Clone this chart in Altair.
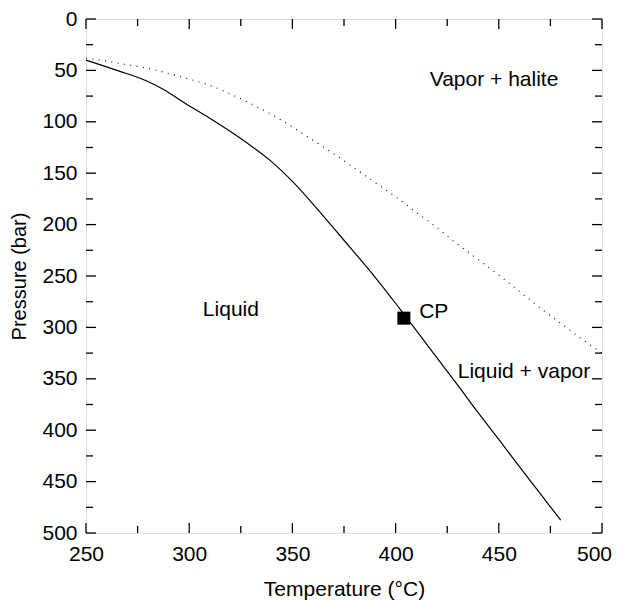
import altair as alt
import pandas as pd

# Liquid-vapor boundary (solid)
lv_T = [250, 265, 280, 288, 298, 310, 320, 330, 340, 350, 360, 370,
        380, 390, 400, 404, 410, 420, 430, 440, 450, 460, 470, 480]
lv_P = [40, 50, 60.8, 69, 82, 96.5, 109.5, 123.5, 139, 158, 180, 203.5,
        227, 251, 276.5, 287, 303, 329.5, 356, 383, 409, 435.5, 461.5, 487.5]

# Vapor + halite boundary (dotted)
vh_T = [250, 260, 270, 280, 290, 300, 310, 320, 330, 340, 350, 360, 370, 380,
        390, 400, 410, 420, 430, 440, 450, 460, 470, 480, 490, 500]
vh_P = [38, 41, 44.5, 48, 53, 58.5, 64.5, 73, 82.5, 93, 105, 118, 131, 145,
        159, 173, 188, 203, 219, 234, 249, 265, 281, 296, 311, 325]

# Critical point
cp_T = [404]
cp_P = [291]

# Region labels
lab_text = ["Vapor + halite", "Liquid", "CP", "Liquid + vapor"]
lab_T = [447.7, 320.2, 418.5, 462.2]
lab_P = [59, 283, 285, 343]

# Axis ticks
x_major = [250, 300, 350, 400, 450, 500]
x_minor = [275, 325, 375, 425, 475]
y_major = [0, 50, 100, 150, 200, 250, 300, 350, 400, 450, 500]
y_minor = [25, 75, 125, 175, 225, 275, 325, 375, 425, 475]

W, H = 516, 514
FONT = "Liberation Sans"
MAJ, MIN = 10, 7

xs = alt.Scale(domain=[250, 500], nice=False, zero=False)
ys = alt.Scale(domain=[0, 500], nice=False, zero=False, reverse=True)

lv = pd.DataFrame({"T": lv_T, "P": lv_P})
vh = pd.DataFrame({"T": vh_T, "P": vh_P})
cp = pd.DataFrame({"T": cp_T, "P": cp_P})
labs = pd.DataFrame({"T": lab_T, "P": lab_P, "text": lab_text})

xaxis = alt.Axis(values=x_major, ticks=False, tickSize=0, domain=False, grid=False,
                 labelFontSize=21, labelPadding=10, labelFont=FONT, labelColor="black",
                 labelOffset={"condition": {"test": "datum.value === 500", "value": -8},
                              "value": 0},
                 title="Temperature (°C)", titleFontSize=21, titleFont=FONT,
                 titleFontWeight="normal", titleColor="black", titlePadding=14,
                 labelFlush=False, labelOverlap=False)
yaxis = alt.Axis(values=y_major, ticks=False, tickSize=0, domain=False, grid=False,
                 labelFontSize=21, labelPadding=9, labelFont=FONT, labelColor="black",
                 title="Pressure (bar)", titleFontSize=20, titleFont=FONT,
                 titleFontWeight="normal", titleColor="black", titlePadding=12,
                 labelFlush=False, labelOverlap=False)


def X(f):
    return alt.X(f, scale=xs, axis=xaxis)


def Y(f):
    return alt.Y(f, scale=ys, axis=yaxis)


solid = alt.Chart(lv).mark_line(color="black", strokeWidth=1.2, interpolate="monotone").encode(
    x=X("T:Q"), y=Y("P:Q"), order="T:Q",
)
dotted = alt.Chart(vh).mark_line(color="black", strokeWidth=1.1, strokeDash=[1, 5.4],
                                 interpolate="monotone").encode(
    x=X("T:Q"), y=Y("P:Q"), order="T:Q",
)
cpm = alt.Chart(cp).mark_square(color="black", size=169, opacity=1).encode(
    x=X("T:Q"), y=Y("P:Q"),
)
text = alt.Chart(labs).mark_text(font=FONT, fontSize=21, color="black",
                                 align="center", baseline="middle").encode(
    x=X("T:Q"), y=Y("P:Q"), text="text:N",
)


def xticks(vals, length):
    d = pd.DataFrame({"T": vals})
    bottom = alt.Chart(d).mark_rule(color="black", strokeWidth=1.3).encode(
        x=X("T:Q"), y=alt.value(H), y2=alt.value(H - length))
    top = alt.Chart(d).mark_rule(color="black", strokeWidth=1.3).encode(
        x=X("T:Q"), y=alt.value(0), y2=alt.value(length))
    return [bottom, top]


def yticks(vals, length):
    d = pd.DataFrame({"P": vals})
    left = alt.Chart(d).mark_rule(color="black", strokeWidth=1.3).encode(
        y=Y("P:Q"), x=alt.value(0), x2=alt.value(length))
    right = alt.Chart(d).mark_rule(color="black", strokeWidth=1.3).encode(
        y=Y("P:Q"), x=alt.value(W), x2=alt.value(W - length))
    return [left, right]


layers = [solid, dotted, cpm, text]
layers += xticks(x_major, MAJ) + xticks(x_minor, MIN)
layers += yticks(y_major, MAJ) + yticks(y_minor, MIN)

chart = alt.layer(*layers).properties(
    width=W, height=H,
    autosize=alt.AutoSizeParams(type="none"),
    padding={"left": 78, "top": 11, "right": 10, "bottom": 70},
).configure_view(stroke="black", strokeWidth=1.5).configure(background="white")

chart.save("out.html", embed_options={"renderer": "svg", "actions": False})
